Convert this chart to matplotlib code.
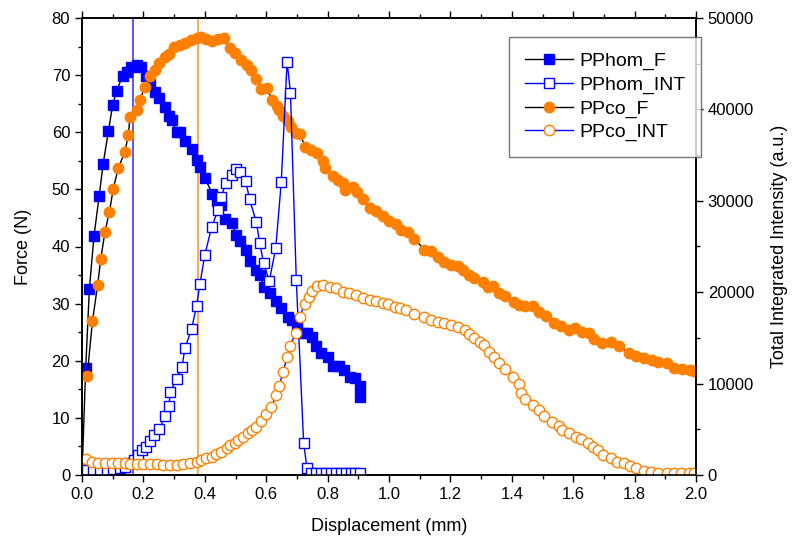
import numpy as np
import matplotlib
matplotlib.use("Agg")
import matplotlib.pyplot as plt
from matplotlib.ticker import MultipleLocator
from matplotlib.lines import Line2D

plt.rcParams['font.family'] = ['Liberation Sans', 'DejaVu Sans']

# PPhom force (left axis)
hom_f_x = [0.000, 0.012, 0.024, 0.039, 0.056, 0.069, 0.086, 0.100, 0.113, 0.132,
           0.145, 0.161, 0.178, 0.191, 0.208, 0.223, 0.237, 0.252, 0.270, 0.284,
           0.292, 0.308, 0.320, 0.335, 0.357, 0.373, 0.384, 0.400, 0.425, 0.440,
           0.454, 0.465, 0.487, 0.503, 0.516, 0.533, 0.546, 0.568, 0.579, 0.593,
           0.611, 0.631, 0.649, 0.671, 0.685, 0.700, 0.720, 0.732, 0.750, 0.763,
           0.780, 0.801, 0.817, 0.837, 0.855, 0.872, 0.888, 0.904, 0.904]
hom_f_y = [0.0, 18.7, 32.5, 41.8, 48.9, 54.5, 60.2, 64.8, 67.3, 69.8,
           70.5, 71.5, 71.8, 71.4, 69.9, 68.5, 67.1, 66.0, 64.4, 62.8,
           62.1, 60.1, 60.0, 58.4, 57.0, 55.2, 54.0, 52.0, 49.2, 48.0,
           47.3, 44.8, 44.2, 42.1, 40.9, 39.3, 37.5, 35.8, 35.0, 32.9,
           31.8, 30.4, 29.2, 27.6, 27.1, 26.1, 24.9, 24.8, 24.1, 22.5,
           21.3, 20.7, 19.0, 19.0, 18.3, 17.2, 16.9, 15.5, 13.7]

# PPhom integrated intensity (right axis)
hom_i_x = [0.000, 0.015, 0.037, 0.059, 0.080, 0.102, 0.124, 0.140, 0.156, 0.171,
           0.183, 0.194, 0.208, 0.221, 0.235, 0.252, 0.270, 0.283, 0.288, 0.308,
           0.326, 0.335, 0.357, 0.373, 0.384, 0.400, 0.422, 0.443, 0.454, 0.468,
           0.487, 0.500, 0.514, 0.533, 0.546, 0.568, 0.579, 0.592, 0.610, 0.631,
           0.649, 0.668, 0.679, 0.698, 0.722, 0.733, 0.747, 0.763, 0.780, 0.796,
           0.812, 0.828, 0.844, 0.860, 0.876, 0.890, 0.904]
hom_i_y = [550, 550, 550, 550, 560, 620, 730, 910, 1280, 1640,
           2200, 2730, 3100, 3750, 4380, 5000, 6450, 7580, 9110, 10500,
           11850, 13860, 15970, 18490, 20860, 24070, 27100, 28990, 30450, 31910,
           32820, 33440, 33180, 32200, 30160, 27650, 25350, 23160, 21220, 24800,
           32020, 45220, 41830, 21330, 3470, 730, 250, 250, 250, 250,
           250, 250, 250, 250, 250, 250, 250]

# PPco force (left axis)
co_f_x = [0.017, 0.034, 0.051, 0.061, 0.075, 0.089, 0.102, 0.118, 0.140, 0.151,
          0.156, 0.178, 0.189, 0.205, 0.221, 0.237, 0.252, 0.270, 0.284, 0.299,
          0.319, 0.335, 0.354, 0.373, 0.389, 0.405, 0.425, 0.443, 0.462, 0.481,
          0.498, 0.519, 0.536, 0.552, 0.568, 0.584, 0.601, 0.620, 0.635, 0.642,
          0.655, 0.671, 0.682, 0.698, 0.709, 0.728, 0.747, 0.765, 0.785, 0.793,
          0.817, 0.834, 0.850, 0.856, 0.882, 0.895, 0.915, 0.937, 0.958, 0.980,
          1.000, 1.023, 1.040, 1.061, 1.083, 1.115, 1.137, 1.159, 1.180, 1.202,
          1.224, 1.240, 1.262, 1.278, 1.306, 1.322, 1.340, 1.359, 1.379, 1.408,
          1.424, 1.444, 1.468, 1.489, 1.511, 1.538, 1.560, 1.587, 1.607, 1.630,
          1.652, 1.668, 1.695, 1.722, 1.750, 1.782, 1.804, 1.831, 1.858, 1.877,
          1.906, 1.928, 1.955, 1.982, 1.995]
co_f_y = [17.4, 26.9, 33.3, 37.8, 42.6, 46.0, 50.1, 53.7, 56.6, 59.5,
          62.6, 63.9, 65.7, 68.0, 69.8, 70.9, 72.2, 73.2, 73.7, 74.9,
          75.3, 75.7, 76.2, 76.5, 76.7, 76.3, 75.9, 76.3, 76.5, 74.7,
          73.8, 72.6, 71.8, 70.9, 69.4, 67.5, 67.7, 65.7, 64.6, 63.9,
          62.9, 62.0, 60.9, 59.8, 59.7, 57.4, 56.9, 56.3, 54.9, 53.7,
          52.4, 51.7, 51.1, 49.9, 50.5, 49.6, 48.3, 46.7, 46.3, 45.3,
          44.5, 44.0, 42.9, 42.6, 41.4, 39.4, 39.2, 38.2, 37.3, 36.8,
          36.5, 35.8, 35.0, 34.4, 33.7, 32.9, 33.0, 31.9, 31.3, 30.3,
          29.8, 29.6, 29.5, 28.6, 27.8, 26.6, 26.1, 25.4, 25.8, 25.1,
          24.8, 23.8, 23.1, 23.2, 22.5, 21.3, 20.8, 20.4, 20.1, 19.7,
          19.6, 18.7, 18.5, 18.3, 18.2]

# PPco integrated intensity (right axis)
co_i_x = [0.012, 0.031, 0.053, 0.075, 0.097, 0.118, 0.140, 0.156, 0.178, 0.199,
          0.221, 0.243, 0.264, 0.286, 0.308, 0.329, 0.351, 0.373, 0.389, 0.405,
          0.422, 0.438, 0.454, 0.471, 0.481, 0.498, 0.508, 0.525, 0.541, 0.555,
          0.568, 0.584, 0.598, 0.617, 0.633, 0.642, 0.655, 0.668, 0.679, 0.696,
          0.709, 0.726, 0.739, 0.750, 0.765, 0.785, 0.807, 0.828, 0.850, 0.871,
          0.891, 0.915, 0.937, 0.958, 0.980, 0.996, 1.018, 1.036, 1.056, 1.083,
          1.115, 1.137, 1.159, 1.180, 1.202, 1.224, 1.246, 1.259, 1.278, 1.295,
          1.311, 1.327, 1.343, 1.359, 1.379, 1.405, 1.422, 1.430, 1.444, 1.468,
          1.487, 1.506, 1.531, 1.554, 1.565, 1.587, 1.609, 1.625, 1.647, 1.663,
          1.682, 1.696, 1.722, 1.744, 1.766, 1.784, 1.804, 1.831, 1.853, 1.877,
          1.906, 1.928, 1.950, 1.977, 1.995]
co_i_y = [1714, 1460, 1350, 1280, 1280, 1280, 1260, 1200, 1200, 1170,
          1170, 1170, 1100, 1100, 1100, 1200, 1280, 1460, 1640, 1820,
          2000, 2300, 2550, 2920, 3280, 3540, 3830, 4120, 4560, 4920,
          5290, 5940, 6670, 7480, 8750, 9740, 11230, 12950, 14150, 15570,
          17320, 18710, 19510, 20170, 20680, 20790, 20600, 20450, 20050, 19880,
          19690, 19380, 19150, 19070, 18850, 18710, 18410, 18240, 18050, 17660,
          17320, 17000, 16720, 16600, 16410, 16200, 15860, 15430, 15000, 14500,
          14170, 13490, 12920, 12220, 11560, 10760, 9960, 9010, 8280, 7660,
          7110, 6450, 5830, 5360, 4920, 4560, 4190, 3900, 3540, 3100,
          2740, 2190, 1830, 1460, 1280, 985, 730, 470, 360, 190,
          190, 250, 250, 250, 250]

# peak force positions
hom_peak = 0.166
co_peak = 0.377

blue = '#0000ff'
orange = '#ff8000'

fig = plt.figure(figsize=(7.93, 5.43), dpi=100)
ax = fig.add_axes([82 / 793, 68 / 543, 614 / 793, 457 / 543])
ax2 = ax.twinx()

ax.plot(hom_f_x, hom_f_y, color='black', lw=1, marker='s', ms=6.5,
        mfc=blue, mec=blue, zorder=3)
ax.plot(co_f_x, co_f_y, color='black', lw=1, marker='o', ms=7.5,
        mfc=orange, mec=orange, zorder=4)
ax.axvline(hom_peak, color='#3a3aff', lw=1.2, zorder=2)
ax.axvline(co_peak, color='#ff9a33', lw=1.2, zorder=2)

ax2.plot(hom_i_x, hom_i_y, color=blue, lw=1, marker='s', ms=6.5,
         mfc='white', mec=blue, mew=1)
ax2.plot(co_i_x, co_i_y, color=blue, lw=1, marker='o', ms=7.5,
         mfc='white', mec=orange, mew=1)

ax.set_xlim(0, 2.0)
ax.set_ylim(0, 80)
ax2.set_ylim(0, 50000)

ax.xaxis.set_major_locator(MultipleLocator(0.2))
ax.xaxis.set_minor_locator(MultipleLocator(0.1))
ax.yaxis.set_major_locator(MultipleLocator(10))
ax.yaxis.set_minor_locator(MultipleLocator(5))
ax2.yaxis.set_major_locator(MultipleLocator(10000))
ax2.yaxis.set_minor_locator(MultipleLocator(5000))
ax.xaxis.set_major_formatter(plt.FormatStrFormatter('%.1f'))

ax.tick_params(axis='x', which='both', direction='out', top=True, labelsize=12)
ax.tick_params(axis='y', which='both', direction='out', labelsize=12)
ax2.tick_params(axis='y', which='both', direction='out', labelsize=12)
for a in (ax, ax2):
    a.tick_params(which='major', length=5, width=1)
    a.tick_params(which='minor', length=3, width=1)
    for s in a.spines.values():
        s.set_linewidth(1.2)

ax.set_xlabel('Displacement (mm)', fontsize=13, labelpad=12)
ax.set_ylabel('Force (N)', fontsize=13, labelpad=14)
ax2.set_ylabel('Total Integrated Intensity (a.u.)', fontsize=13, labelpad=12)

handles = [
    Line2D([], [], color='black', lw=1, marker='s', ms=6.5, mfc=blue, mec=blue),
    Line2D([], [], color=blue, lw=1, marker='s', ms=6.5, mfc='white', mec=blue),
    Line2D([], [], color='black', lw=1, marker='o', ms=7.5, mfc=orange, mec=orange),
    Line2D([], [], color=blue, lw=1, marker='o', ms=7.5, mfc='white', mec=orange),
]
labels = ['PPhom_F', 'PPhom_INT', 'PPco_F', 'PPco_INT']
leg = ax2.legend(handles, labels, loc='upper right',
                 bbox_to_anchor=(701 / 793, 1 - 37 / 543),
                 bbox_transform=fig.transFigure, fontsize=14,
                 frameon=True, fancybox=False, borderaxespad=0,
                 handlelength=2.5, handletextpad=0.3, labelspacing=0.3,
                 borderpad=0.8)
leg.get_frame().set_edgecolor('#555555')
leg.get_frame().set_linewidth(1)

fig.savefig('out.png', dpi=100)
